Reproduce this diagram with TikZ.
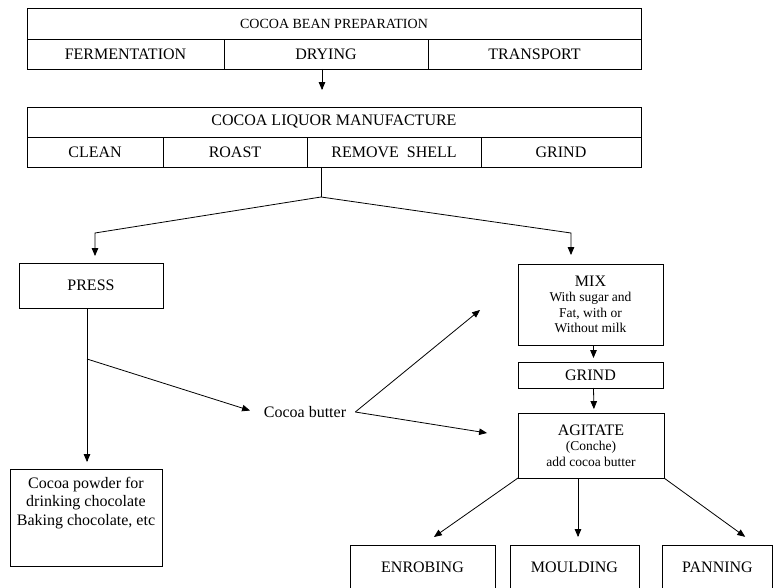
\documentclass[tikz,border=0pt]{standalone}
\usepackage{fontspec}
\setmainfont{Liberation Serif}
\usetikzlibrary{shapes,arrows,positioning}

\begin{document}
\begin{tikzpicture}[x=1pt,y=-1pt]

  \tikzset{main node/.style={rectangle, draw, line width=0.9pt,
  		text centered, inner sep=0pt, outer sep=0pt,
  		font=\fontsize{16}{19}\selectfont}, }
  \tikzset{small node/.style={main node, align=center,
  		font=\fontsize{13.5}{15.5}\selectfont}, }
  \tikzset{linea/.style={-triangle 45, line width=0.8pt}, }
\path[use as bounding box] (0,0) rectangle (774,588);
\clip (0,0) rectangle (774,588);

% bean preparation
\node[main node, minimum width=614pt, minimum height=31pt,
  font=\fontsize{14}{16}\selectfont] (a) at (334,23.5) {COCOA BEAN PREPARATION};
\node[main node, minimum width=197pt, minimum height=30pt] (a1) at (125.5,54) {FERMENTATION};
\node[main node, minimum width=204pt, minimum height=30pt] (a2) [right=0pt of a1] {DRYING};
\node[main node, minimum width=213pt, minimum height=30pt] (a3) [right=0pt of a2] {TRANSPORT};

% liquor manufacture
\node[main node, minimum width=614pt, minimum height=30pt] (b) at (334,122) {COCOA LIQUOR MANUFACTURE};
\node[main node, minimum width=136pt, minimum height=30pt] (b1) at (95,152) {CLEAN};
\node[main node, minimum width=144pt, minimum height=30pt] (b2) [right=0pt of b1] {ROAST};
\node[main node, minimum width=174pt, minimum height=30pt] (b3) [right=0pt of b2] {REMOVE\ \ SHELL};
\node[main node, minimum width=160pt, minimum height=30pt] (b4) [right=0pt of b3] {GRIND};

\node[main node, minimum width=144pt, minimum height=45pt] (c) at (91,285.5) {PRESS};
\node[main node, align=center, minimum width=152pt, minimum height=97pt,
  font=\fontsize{16}{18.5}\selectfont] (e) at (86,517.5)
  {Cocoa powder for\\drinking chocolate\\Baking chocolate, etc\\[14pt]\mbox{}};
\node[inner sep=9pt, font=\fontsize{16}{19}\selectfont] (f) at (305,412) {Cocoa butter};

\node[small node, minimum width=145pt, minimum height=81pt] (d) at (590.5,304.5)
  {{\fontsize{16}{19}\selectfont MIX}\\With sugar and\\Fat, with or\\Without milk};
\node[main node, minimum width=145pt, minimum height=26pt] (g) at (590.5,375) {GRIND};
\node[small node, minimum width=146pt, minimum height=65pt] (h) at (591,445.5)
  {{\fontsize{16}{19}\selectfont AGITATE}\\(Conche)\\add cocoa butter};

% end products, cut off at the foot
\node[main node, anchor=north, minimum width=145pt, text height=27pt, text depth=30pt] (i) at (422.5,545) {ENROBING};
\node[main node, anchor=north, minimum width=129pt, text height=27pt, text depth=30pt] (j) at (574.5,545) {MOULDING};
\node[main node, anchor=north, minimum width=110pt, text height=27pt, text depth=30pt] (k) at (717.5,545) {PANNING};

\coordinate (s) at (321,197);
\coordinate (l) at (95,233);
\coordinate (r) at (571,233);
\coordinate (p) at (87,359);
\coordinate (m) at (480,310);
\coordinate (n) at (487,433);

\draw[linea, shorten >=17pt] ([xshift=-4pt]a2.south) -- ([xshift=-4pt]a2.south |- b.north);
\draw[line width=0.8pt] (s |- b3.south) -- (s);
\draw[linea, shorten >=7pt] (s) -- (l) -- (l |- c.north);
\draw[linea, shorten >=9pt] (s) -- (r) -- (r |- d.north);
\draw[linea, shorten >=7pt] (p |- c.south) -- (p |- e.north);
\draw[linea, shorten >=5pt] (p) -- (f.west);
\draw[linea] (f.east) -- (m);
\draw[linea] (f.east) -- (n);
\foreach \x /\y in {d/g,g/h}
  \path[linea, shorten >=4pt] ([xshift=3pt]\x.south) edge ([xshift=3pt]\y.north);
\draw[linea, shorten >=14pt] (h.south west) -- (i.north);
\draw[linea, shorten >=8pt] ([xshift=-13pt]h.south) -- ([xshift=-13pt]h.south |- j.north);
\draw[linea, shorten >=14pt] (h.south east) -- ([xshift=39pt]k.north);
%%
\end{tikzpicture}
\end{document}
